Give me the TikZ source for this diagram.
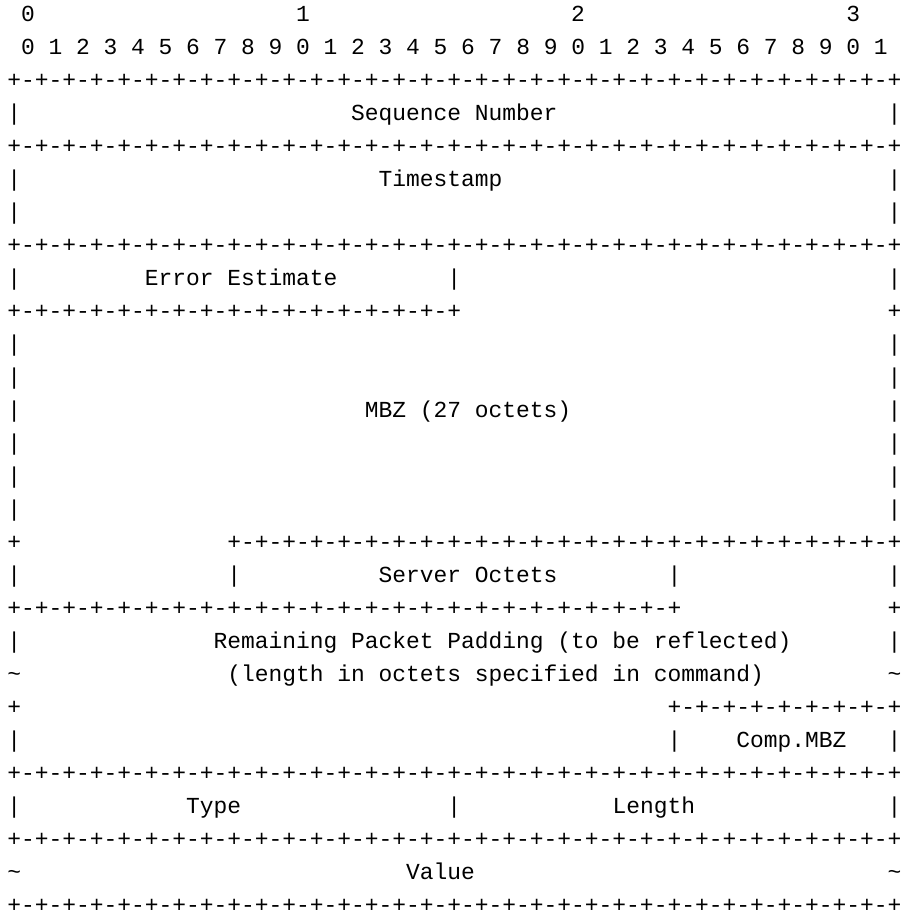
\documentclass[tikz,border=0pt]{standalone}
\usepackage{fontspec}
\newfontfamily\mono[WordSpace={1,0,0},RawFeature=+zero]{Liberation Mono}
\frenchspacing
\def\pp{+-}
\def\pq{\pp\pp\pp\pp\pp\pp\pp\pp}
\def\full{\pq\pq\pq\pq+}
\def\half{\pq\pq+}
\def\threeq{\pq\pq\pq+}
\def\quart{\pq+}
\def\bits{0 1 2 3 4 5 6 7 8 9 0 1 2 3 4 5 6 7 8 9 0 1 2 3 4 5 6 7 8 9 0 1}
\tikzset{txt/.style={font=\mono\fontsize{11.46pt}{16.5pt}\selectfont,inner sep=0pt,outer sep=0pt,anchor=base west,text=black}}
\newcommand\seg[4]{\node[txt] (#1) at ({3.7pt+#3*6.876pt},{-10.85pt-(#2-1)*16.5pt}) {#4};}
\newcommand\tl{\textasciitilde}
\begin{document}
\begin{tikzpicture}
\useasboundingbox[fill=white] (0,0) rectangle (450pt,-456.5pt);
% header
\seg{ha}{1}{1}{0}\seg{hb}{1}{21}{1}\seg{hc}{1}{41}{2}\seg{hd}{1}{61}{3}
\seg{bits}{2}{1}{\bits}
\seg{b3}{3}{0}{\full}
% sequence number
\seg{l4}{4}{0}{|}\seg{seq}{4}{25}{Sequence Number}\seg{r4}{4}{64}{|}
\seg{b5}{5}{0}{\full}
% timestamp
\seg{l6}{6}{0}{|}\seg{ts}{6}{27}{Timestamp}\seg{r6}{6}{64}{|}
\seg{l7}{7}{0}{|}\seg{r7}{7}{64}{|}
\seg{b8}{8}{0}{\full}
% error estimate
\seg{l9}{9}{0}{|}\seg{err}{9}{10}{Error Estimate}\seg{m9}{9}{32}{|}\seg{r9}{9}{64}{|}
\seg{b10}{10}{0}{\half}\seg{p10}{10}{64}{+}
% MBZ
\seg{l11}{11}{0}{|}\seg{r11}{11}{64}{|}
\seg{l12}{12}{0}{|}\seg{r12}{12}{64}{|}
\seg{l13}{13}{0}{|}\seg{mbz}{13}{26}{MBZ (27 octets)}\seg{r13}{13}{64}{|}
\seg{l14}{14}{0}{|}\seg{r14}{14}{64}{|}
\seg{l15}{15}{0}{|}\seg{r15}{15}{64}{|}
\seg{l16}{16}{0}{|}\seg{r16}{16}{64}{|}
\seg{p17}{17}{0}{+}\seg{b17}{17}{16}{\threeq}
% server octets
\seg{l18}{18}{0}{|}\seg{m18a}{18}{16}{|}\seg{srv}{18}{27}{Server Octets}\seg{m18b}{18}{48}{|}\seg{r18}{18}{64}{|}
\seg{b19}{19}{0}{\threeq}\seg{p19}{19}{64}{+}
% padding
\seg{l20}{20}{0}{|}\seg{pad}{20}{15}{Remaining Packet Padding (to be reflected)}\seg{r20}{20}{64}{|}
\seg{l21}{21}{0}{\tl}\seg{padlen}{21}{16}{(length in octets specified in command)}\seg{r21}{21}{64}{\tl}
\seg{p22}{22}{0}{+}\seg{b22}{22}{48}{\quart}
\seg{l23}{23}{0}{|}\seg{m23}{23}{48}{|}\seg{cmbz}{23}{53}{Comp.MBZ}\seg{r23}{23}{64}{|}
\seg{b24}{24}{0}{\full}
% TLV
\seg{l25}{25}{0}{|}\seg{type}{25}{13}{Type}\seg{m25}{25}{32}{|}\seg{len}{25}{44}{Length}\seg{r25}{25}{64}{|}
\seg{b26}{26}{0}{\full}
\seg{l27}{27}{0}{\tl}\seg{val}{27}{29}{Value}\seg{r27}{27}{64}{\tl}
\seg{b28}{28}{0}{\full}
\end{tikzpicture}
\end{document}
